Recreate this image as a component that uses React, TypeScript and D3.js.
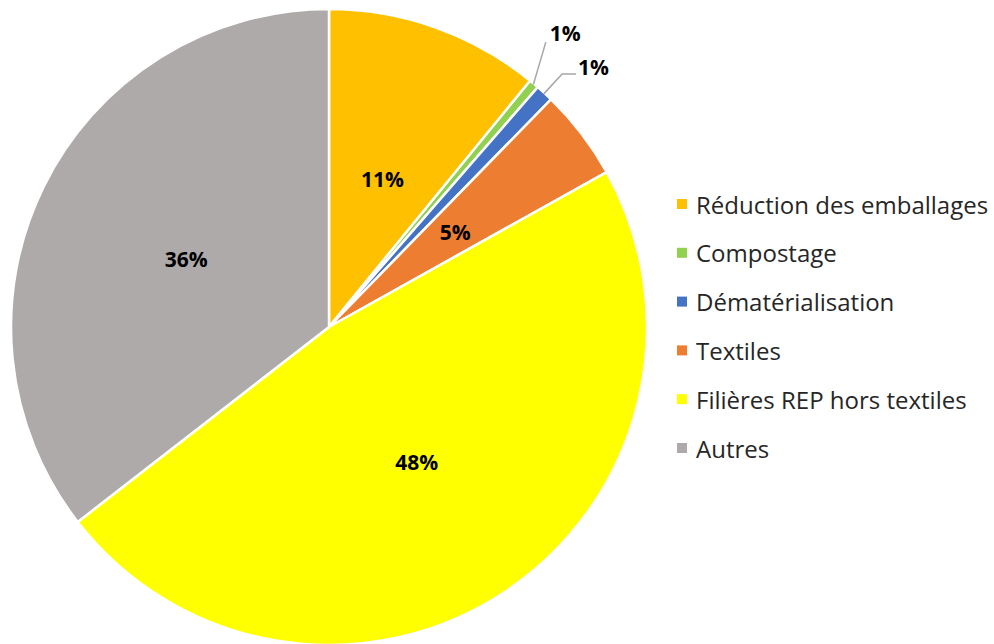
import React, { useEffect, useRef } from 'react';
import * as d3 from 'd3';

const categories = [
  'Réduction des emballages',
  'Compostage',
  'Dématérialisation',
  'Textiles',
  'Filières REP hors textiles',
  'Autres',
];
const values = [10.9, 0.5, 0.9, 4.6, 47.6, 35.5];
const colors = ['#FFC000', '#92D050', '#4472C4', '#ED7D31', '#FFFF00', '#AEAAAA'];
// small slices get their label outside, with a leader line
const outside = [false, true, true, false, false, false];

const W = 994;
const H = 644;

export default function App() {
  const ref = useRef<SVGSVGElement>(null);

  useEffect(() => {
    const svg = d3.select(ref.current);
    svg.selectAll('*').remove();

    const cx = 329;
    const cy = 327;
    const radius = 318;
    const font = '"Open Sans", sans-serif';

    const pie = d3.pie<number>().sort(null).startAngle(0).endAngle(2 * Math.PI);
    const arcs = pie(values);
    const arc = d3.arc<d3.PieArcDatum<number>>().innerRadius(0).outerRadius(radius);

    const g = svg.append('g').attr('transform', `translate(${cx},${cy})`);

    g.selectAll('path.slice')
      .data(arcs)
      .join('path')
      .attr('class', 'slice')
      .attr('d', arc)
      .attr('fill', (d, i) => colors[i])
      .attr('stroke', '#fff')
      .attr('stroke-width', 2.5)
      .attr('stroke-linejoin', 'round');

    // inside labels
    g.selectAll('text.inlbl')
      .data(arcs.filter((d, i) => !outside[i]))
      .join('text')
      .attr('class', 'inlbl')
      .attr('x', d => arc.centroid(d)[0])
      .attr('y', d => arc.centroid(d)[1] + 2)
      .attr('text-anchor', 'middle')
      .attr('dominant-baseline', 'central')
      .attr('font-family', font)
      .attr('font-weight', 'bold')
      .attr('font-size', 21)
      .attr('fill', '#000')
      .text(d => Math.round(d.value) + '%');

    // outside labels for the tiny slices
    const pt = (a: number, r: number) => [Math.sin(a) * r, -Math.cos(a) * r];
    const lineSpecs = [
      { i: 1, angOff: 0.05, out: 40, ext: 0, dx: 4, dy: -9 },
      { i: 2, angOff: 0, out: 26, ext: 14, dx: 2, dy: -7 },
    ];
    lineSpecs.forEach(s => {
      const d = arcs[s.i];
      const mid = (d.startAngle + d.endAngle) / 2;
      const p0 = pt(mid, radius - 1);
      const p1 = pt(mid - s.angOff, radius + s.out);
      const p2 = [p1[0] + s.ext, p1[1]];
      g.append('polyline')
        .attr('points', [p0, p1, p2].map(p => p.join(',')).join(' '))
        .attr('fill', 'none')
        .attr('stroke', '#A6A6A6')
        .attr('stroke-width', 1.5);
      g.append('text')
        .attr('x', p2[0] + s.dx)
        .attr('y', p2[1] + s.dy)
        .attr('dominant-baseline', 'central')
        .attr('font-family', font)
        .attr('font-weight', 'bold')
        .attr('font-size', 21)
        .attr('fill', '#000')
        .text(Math.round(d.value) + '%');
    });

    // legend
    const ly = d3.scalePoint<string>().domain(categories).range([204, 448]);
    const legend = svg.append('g');
    categories.forEach((c, i) => {
      const y = ly(c) as number;
      legend.append('rect')
        .attr('x', 677)
        .attr('y', y - 5)
        .attr('width', 10)
        .attr('height', 10)
        .attr('fill', colors[i]);
      legend.append('text')
        .attr('x', 696)
        .attr('y', y)
        .attr('dominant-baseline', 'central')
        .attr('font-family', font)
        .attr('font-size', 24)
        .attr('fill', '#262626')
        .text(c);
    });
  }, []);

  return (
    <svg
      ref={ref}
      width={W}
      height={H}
      style={{ position: 'absolute', left: 0, top: 0, background: '#fff' }}
    />
  );
}
